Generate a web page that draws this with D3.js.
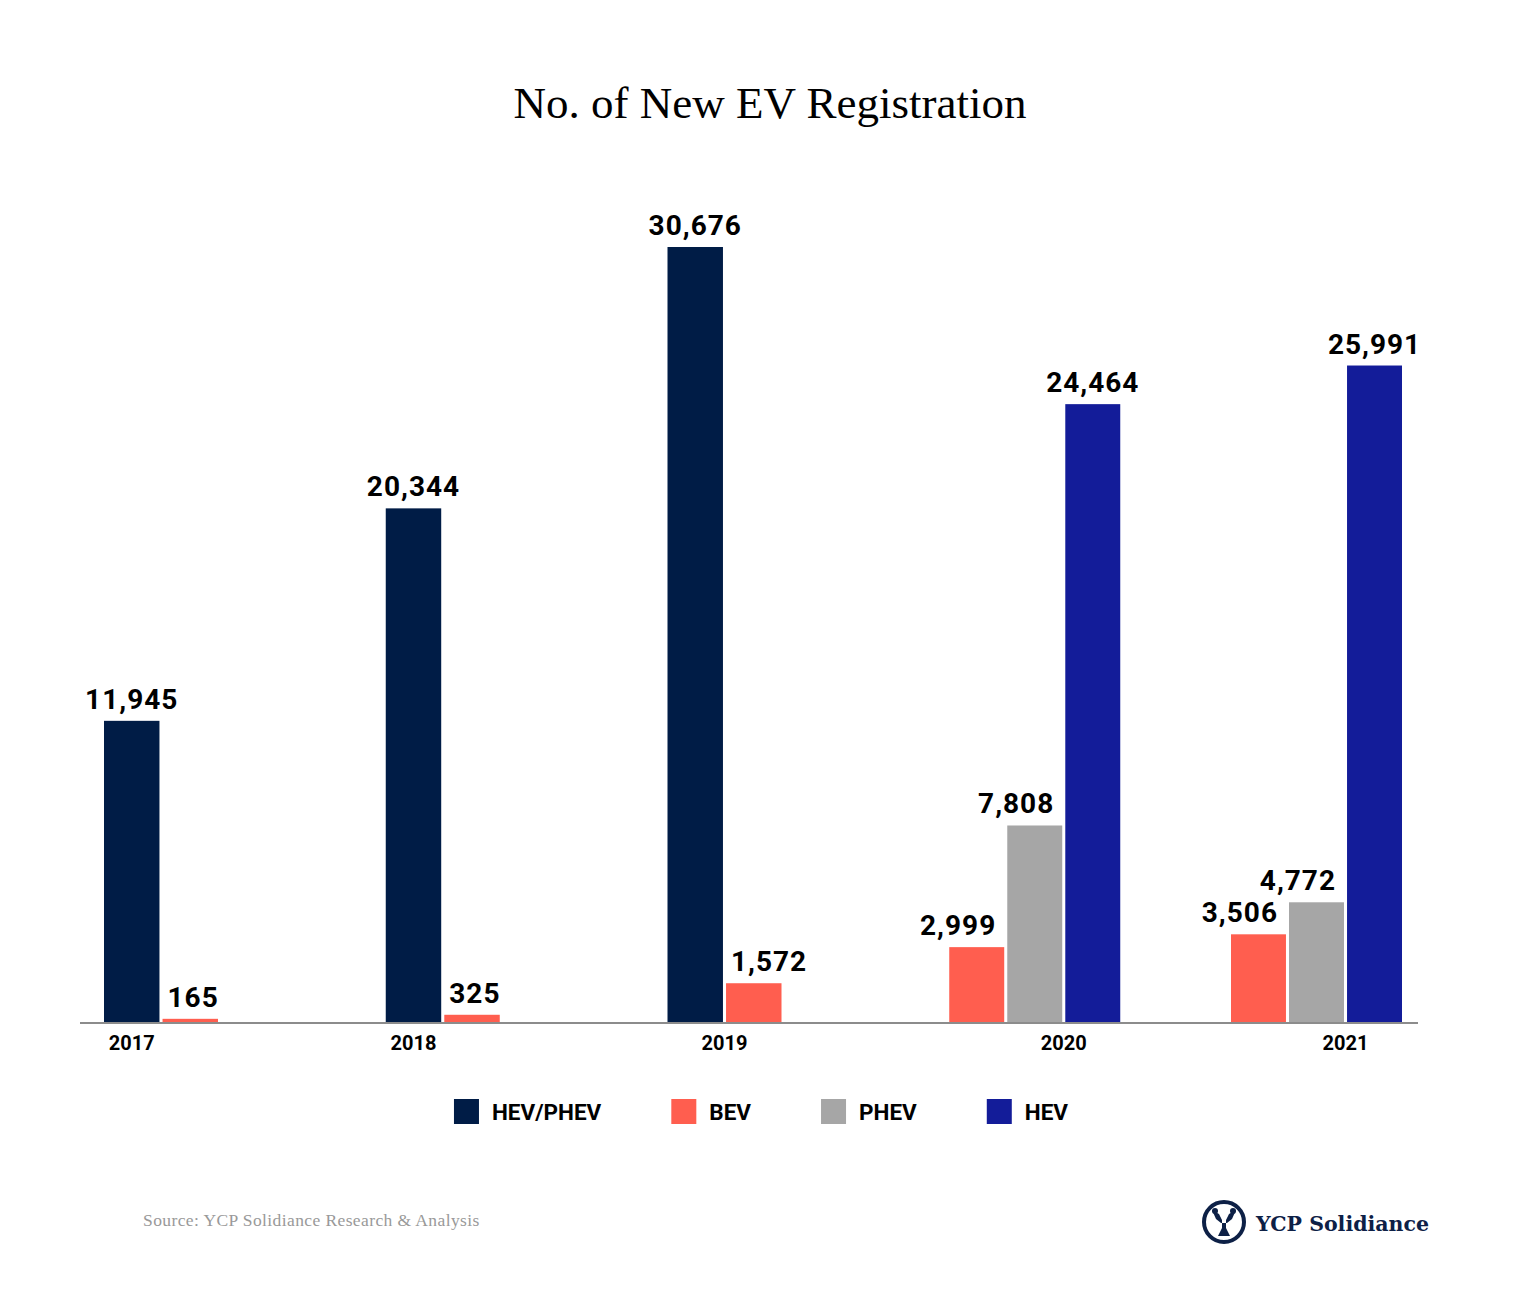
<!DOCTYPE html>
<html><head><meta charset="utf-8">
<script src="https://cdn.jsdelivr.net/npm/d3@7"></script>
<style>
html,body{margin:0;padding:0;background:#fff;}
svg{display:block;}
</style></head>
<body>
<svg id="chart" width="1540" height="1302"></svg>
<script>
// ---- data ----
const years = ["2017", "2018", "2019", "2020", "2021"];
const seriesNames = ["HEV/PHEV", "BEV", "PHEV", "HEV"];
const seriesColors = ["#001c46", "#ff5e4f", "#a6a6a6", "#131c99"];
const hevPhev = [11945, 20344, 30676, null, null];
const bev     = [165, 325, 1572, 2999, 3506];
const phev    = [null, null, null, 7808, 4772];
const hev     = [null, null, null, 24464, 25991];
const titleText = "No. of New EV Registration";
const sourceText = "Source: YCP Solidiance Research & Analysis";
const logoText = "YCP Solidiance";

const seriesValues = [hevPhev, bev, phev, hev];

const svg = d3.select("#chart");

// title
svg.append("text").attr("x", 770).attr("y", 118).attr("text-anchor","middle")
  .attr("font-family","'Liberation Serif', serif").attr("font-size", 45).attr("fill","#000")
  .text(titleText);

const baseY = 1023;
const y = d3.scaleLinear().domain([0, 30676]).range([baseY, 247]);
// left edge of each year's cluster
const xStart = d3.scalePoint().domain(years).range([104, 1231]);
const step = 57;
const yearLabelX = {};

// groups
years.forEach((yr, i) => {
  const present = seriesNames.map((s, j) => ({s, j, v: seriesValues[j][i]})).filter(d => d.v != null);
  const n = present.length;
  const inner = d3.scaleBand().domain(present.map(d => d.s))
    .range([xStart(yr), xStart(yr) + n*step]).paddingInner(3/57).paddingOuter(0);
  present.forEach((d, k) => {
    d.prev = k > 0 ? present[k-1].v : null;
    d.next = k < n-1 ? present[k+1].v : null;
  });
  const last = present[n-1];
  yearLabelX[yr] = last.v > 1000
    ? inner(last.s) - (inner.step() - inner.bandwidth())/2
    : inner(present[0].s) + inner.bandwidth()/2;

  const g = svg.append("g");
  g.selectAll("rect").data(present).join("rect")
    .attr("x", d => inner(d.s)).attr("width", inner.bandwidth())
    .attr("y", d => y(d.v)).attr("height", d => baseY - y(d.v))
    .attr("fill", d => seriesColors[d.j]);
  g.selectAll("text.val").data(present).join("text").attr("class","val")
    .attr("x", d => {
      if (d.next != null && d.next > d.v) return inner(d.s) + inner.bandwidth() - 8;
      if (d.prev != null && d.prev > d.v) return inner(d.s) + 5;
      return inner(d.s) + inner.bandwidth()/2;
    })
    .attr("y", d => y(d.v) - 12)
    .attr("text-anchor", d => (d.next != null && d.next > d.v) ? "end" : (d.prev != null && d.prev > d.v) ? "start" : "middle")
    .attr("font-family","Roboto, sans-serif").attr("font-weight",700).attr("font-size",28)
    .attr("letter-spacing", 1)
    .attr("fill","#000")
    .text(d => d3.format(",")(d.v));
});

// axis
const xAxisG = svg.append("g").attr("transform", `translate(0,${baseY})`);
xAxisG.append("line").attr("x1", 80).attr("x2", 1418).attr("y1", 0).attr("y2", 0)
  .attr("stroke","#8c8c8c").attr("stroke-width",2);
xAxisG.selectAll("text").data(years).join("text")
  .attr("x", d => yearLabelX[d]).attr("y", 27).attr("text-anchor","middle")
  .attr("font-family","Roboto, sans-serif").attr("font-weight",700).attr("font-size",20)
  .attr("fill","#000").text(d => d);

// legend
const leg = svg.append("g");
let lx = 0;
seriesNames.forEach((s, j) => {
  const it = leg.append("g").attr("transform", `translate(${lx},0)`);
  it.append("rect").attr("x",0).attr("y",1099).attr("width",25).attr("height",25).attr("fill",seriesColors[j]);
  const t = it.append("text").attr("x",38).attr("y",1120)
    .attr("font-family","Roboto, sans-serif").attr("font-weight",700).attr("font-size",22.5)
    .attr("fill","#000").text(s);
  const w = t.node().getComputedTextLength();
  lx += 38 + w + 70;
});
const legW = lx - 70;
leg.attr("transform", `translate(${761 - legW/2},0)`);

// source
svg.append("text").attr("x",143).attr("y",1226)
  .attr("font-family","'Liberation Serif', serif").attr("font-size",17.5).attr("letter-spacing",0.4).attr("fill","#999")
  .text(sourceText);

// logo
const logo = svg.append("g").attr("transform","translate(1224,1222)");
logo.append("circle").attr("r",20).attr("fill","none").attr("stroke","#0d2046").attr("stroke-width",4);
logo.append("path").attr("d","M-12,-12 L-5,-8 L-2,-2 L-2,6 L-6,14 L6,14 L2,6 L2,-2 L5,-8 L12,-12 L8,-3 L3,1 L-3,1 L-8,-3 Z")
  .attr("fill","#0d2046");
logo.append("circle").attr("cx",-9).attr("cy",-11).attr("r",3).attr("fill","#0d2046");
logo.append("circle").attr("cx",9).attr("cy",-11).attr("r",3).attr("fill","#0d2046");
svg.append("text").attr("x",1256).attr("y",1231)
  .attr("font-family","'DejaVu Serif', serif").attr("font-weight",700).attr("font-size",20.5)
  .attr("fill","#0d2046").text(logoText);
</script>
</body></html>
